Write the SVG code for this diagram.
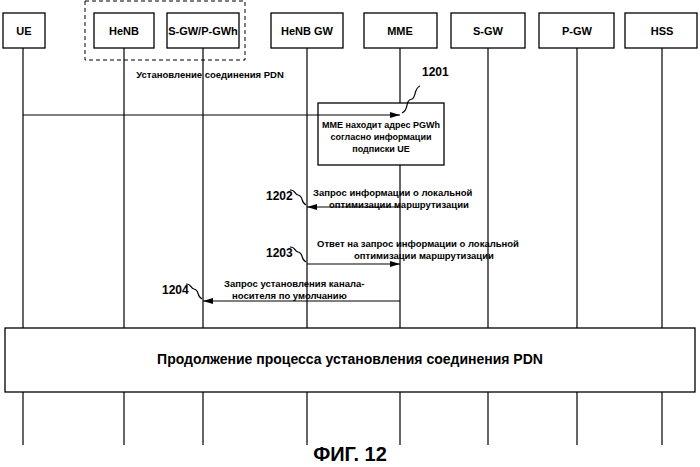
<svg xmlns="http://www.w3.org/2000/svg" width="700" height="467" viewBox="0 0 700 467">
<defs>
<style>
.b{fill:#fff;stroke:#000;stroke-width:1.3}
.l{stroke:#000;stroke-width:1.2;fill:none}
.t{font-family:"Liberation Sans",Arial,sans-serif;font-weight:bold;font-size:9.5px;fill:#000}
.n{font-family:"Liberation Sans Narrow","Liberation Sans",sans-serif;font-weight:bold;font-size:11px;fill:#000;text-anchor:middle}
.r{font-family:"Liberation Sans Narrow","Liberation Sans",sans-serif;font-weight:bold;font-size:12px;fill:#000}
</style>
<marker id="a" markerWidth="10" markerHeight="6" refX="10" refY="3" orient="auto" markerUnits="userSpaceOnUse"><path d="M0,0L10,3L0,6z" fill="#000"/></marker>
</defs>
<rect width="700" height="467" fill="#fff"/>
<rect x="85" y="1" width="160" height="59" fill="none" stroke="#000" stroke-dasharray="4,3"/>
<g id="lifelines" class="l">
<path d="M23,48V445M124,48V445M203,48V445M307,48V445M400,48V445M488,48V445M577,48V445M662,48V445"/>
</g>
<g id="UE"><rect class="b" x="3" y="13" width="42" height="35"/><text class="n" x="24" y="35">UE</text></g>
<g id="HeNB"><rect class="b" x="94" y="13" width="60" height="35"/><text class="n" x="124" y="35">HeNB</text></g>
<g id="SGWPGWh"><rect class="b" x="167" y="13" width="72" height="35"/><text class="n" x="203" y="35">S-GW/P-GWh</text></g>
<g id="HeNBGW"><rect class="b" x="271" y="13" width="72" height="35"/><text class="n" x="307" y="35">HeNB GW</text></g>
<g id="MME"><rect class="b" x="364" y="13" width="73" height="35"/><text class="n" x="400" y="35">MME</text></g>
<g id="SGW"><rect class="b" x="451" y="13" width="74" height="35"/><text class="n" x="488" y="35">S-GW</text></g>
<g id="PGW"><rect class="b" x="539" y="13" width="75" height="35"/><text class="n" x="577" y="35">P-GW</text></g>
<g id="HSS"><rect class="b" x="625" y="13" width="72" height="35"/><text class="n" x="662" y="35">HSS</text></g>
<g id="mmebox"><rect class="b" x="318" y="103" width="126" height="62"/>
<text class="t" x="381" y="128" text-anchor="middle" style="font-size:9px">MME находит адрес PGWh</text>
<text class="t" x="381" y="140" text-anchor="middle" style="font-size:9px">согласно информации</text>
<text class="t" x="381" y="152" text-anchor="middle" style="font-size:9px">подписки UE</text></g>
<g id="connectors">
<line class="l" x1="23" y1="115" x2="400" y2="115" marker-end="url(#a)"/>
<line class="l" x1="400" y1="207" x2="307" y2="207" marker-end="url(#a)"/>
<line class="l" x1="307" y1="264" x2="400" y2="264" marker-end="url(#a)"/>
<line class="l" x1="400" y1="301" x2="203" y2="301" marker-end="url(#a)"/>
<path class="l" stroke-width="0.8" d="M402,113c8,-4 2,-12 10,-14c4,-1 2,-11 8,-13"/>
<path class="l" stroke-width="0.8" d="M306,205c-6,-3 -2,-9 -8,-10c-4,-1 -2,-5 -8,-5"/>
<path class="l" stroke-width="0.8" d="M306,262c-6,-3 -2,-9 -8,-10c-4,-1 -2,-5 -8,-5"/>
<path class="l" stroke-width="0.8" d="M202,299c-6,-3 -2,-9 -8,-10c-4,-1 -2,-5 -8,-5"/>
</g>
<g id="labels">
<text class="t" x="210" y="78" text-anchor="middle">Установление соединения PDN</text>
<text class="r" x="422" y="76">1201</text>
<text class="r" x="266" y="200">1202</text>
<text class="r" x="266" y="257">1203</text>
<text class="r" x="162" y="294">1204</text>
<text class="t" x="313" y="196">Запрос информации о локальной</text>
<text class="t" x="329" y="208">оптимизации маршрутизации</text>
<text class="t" x="317" y="247">Ответ на запрос информации о локальной</text>
<text class="t" x="354" y="259">оптимизации маршрутизации</text>
<text class="t" x="224" y="287">Запрос установления канала-</text>
<text class="t" x="232" y="299">носителя по умолчанию</text>
</g>
<g id="continue"><rect class="b" x="5" y="328" width="690" height="64"/>
<text class="t" x="350" y="364" text-anchor="middle" style="font-size:14px">Продолжение процесса установления соединения PDN</text></g>
<text x="350" y="461" text-anchor="middle" font-family="Liberation Sans,sans-serif" font-weight="bold" font-size="20">ФИГ. 12</text>
</svg>
